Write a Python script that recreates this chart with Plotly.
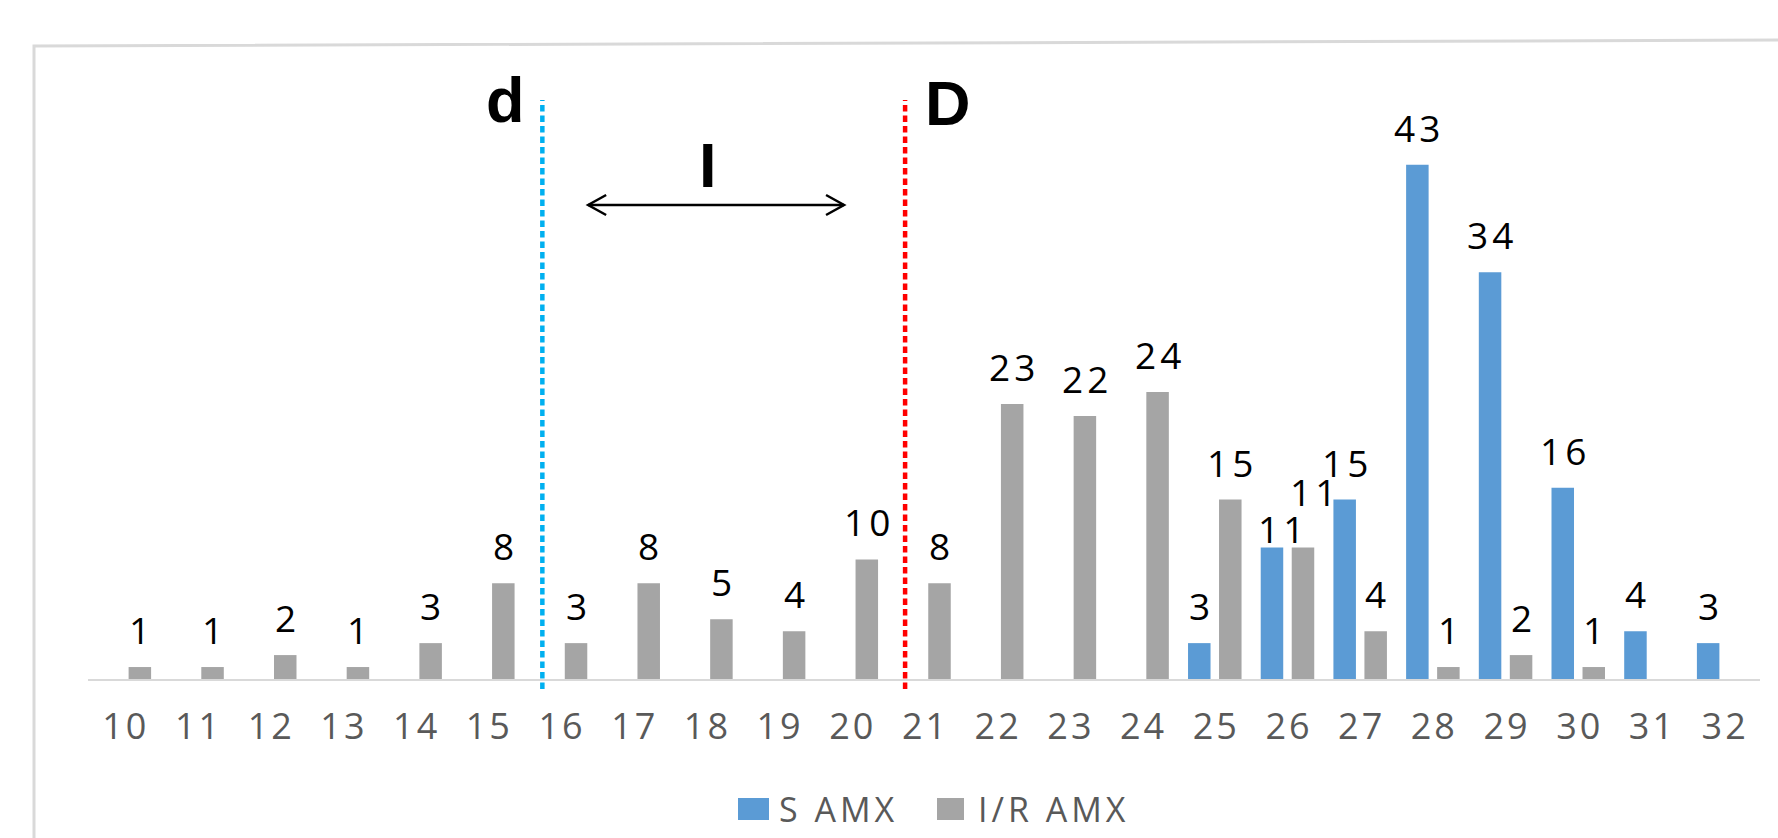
import plotly.graph_objects as go

# Inhibition zone diameter (mm) and number of strains per class
categories = list(range(10, 33))
s_amx = [0, 0, 0, 0, 0, 0, 0, 0, 0, 0, 0, 0, 0, 0, 0, 3, 11, 15, 43, 34, 16, 4, 3]
ir_amx = [1, 1, 2, 1, 3, 8, 3, 8, 5, 4, 10, 8, 23, 22, 24, 15, 11, 4, 1, 2, 1, 0, 0]
series_names = ["S AMX", "I/R AMX"]

# critical diameters drawn as dotted markers on the axis
d_critical = 15.75
D_critical = 20.74
interval_span = (16.38, 19.90)

# ---- layout geometry -------------------------------------------------------
W, H = 1778, 838
PL, PR, PT, PB = 88, 1760, 81, 679
X0, X1 = 9.5, 32.5
Y0, Y1 = 0, 50

BLUE = "#5B9BD5"
GREY = "#A5A5A5"
FONT = "Open Sans"


def px_x(px):
    return (px - PL) / (PR - PL)


def px_y(py):
    return (PB - py) / (PB - PT)


def ax_x(v):
    return (v - X0) / (X1 - X0)


def spaced(s, ls):
    """Letter-spacing between characters (not after the last one)."""
    if len(s) < 2:
        return s
    return f"<span style='letter-spacing:{ls}px'>{s[:-1]}</span>{s[-1]}"


fig = go.Figure()
fig.add_trace(go.Bar(x=categories, y=s_amx, name=series_names[0],
                     marker=dict(color=BLUE, line=dict(width=0))))
fig.add_trace(go.Bar(x=categories, y=ir_amx, name=series_names[1],
                     marker=dict(color=GREY, line=dict(width=0))))

shapes = []
annotations = []

# outer chart frame
shapes.append(dict(type="path", xref="paper", yref="paper",
                   path=f"M {px_x(34)},{px_y(845)} L {px_x(34)},{px_y(46)} L {px_x(1790)},{px_y(40)}",
                   line=dict(color="#D9D9D9", width=3)))

# critical diameter markers
for xv, col in ((d_critical, "#00B0F0"), (D_critical, "#FF0000")):
    shapes.append(dict(type="line", xref="paper", yref="paper",
                       x0=ax_x(xv), x1=ax_x(xv), y0=px_y(689), y1=px_y(100),
                       line=dict(color=col, width=4.5, dash="6.5px,4px")))

# double-headed arrow for the intermediate interval
ay = px_y(205)
lx, rx = ax_x(interval_span[0]), ax_x(interval_span[1])
hx = 18 / (PR - PL)
hy = 10 / (PB - PT)
arrow = dict(color="black", width=2.5)
shapes.append(dict(type="path", xref="paper", yref="paper",
                   path=f"M {lx},{ay} L {rx},{ay}", line=arrow))
shapes.append(dict(type="path", xref="paper", yref="paper",
                   path=f"M {lx + hx},{ay + hy} L {lx},{ay} L {lx + hx},{ay - hy}", line=arrow))
shapes.append(dict(type="path", xref="paper", yref="paper",
                   path=f"M {rx - hx},{ay + hy} L {rx},{ay} L {rx - hx},{ay - hy}", line=arrow))

# d / D / I letters
big = dict(family="Liberation Sans, Arial", size=63, color="black")
for txt, cx, cy in (("<b>d</b>", 504.5, 100), ("<b>D</b>", 948, 103), ("<b>I</b>", 707.5, 165)):
    annotations.append(dict(text=txt, xref="paper", yref="paper", x=px_x(cx), y=px_y(cy),
                            xanchor="center", yanchor="middle", showarrow=False, font=big))

# value labels above bars
bar_offset = 15.5
label_lift = 37.5
nudges = {(0, 26): (9.5, -18.5), (1, 26): (10, 18)}
for si, vals in enumerate((s_amx, ir_amx)):
    off = -bar_offset if si == 0 else bar_offset
    for c, v in zip(categories, vals):
        if v <= 0:
            continue
        nx, ny = nudges.get((si, c), (0, 0))
        annotations.append(dict(text=spaced(str(v), 4), x=c, y=v, xref="x", yref="y",
                                xanchor="center", yanchor="middle", showarrow=False,
                                xshift=off + nx, yshift=label_lift + ny,
                                font=dict(family=FONT, size=37, color="black")))

# legend
leg_items = ((series_names[0], BLUE, 738, 769, 777), (series_names[1], GREY, 937, 964, 976))
for name, col, sx0, sx1, tx in leg_items:
    shapes.append(dict(type="rect", xref="paper", yref="paper",
                       x0=px_x(sx0), x1=px_x(sx1), y0=px_y(820), y1=px_y(798),
                       fillcolor=col, line=dict(width=0)))
    annotations.append(dict(text=spaced(name, 4), xref="paper", yref="paper",
                            x=px_x(tx), y=px_y(809), xanchor="left", yanchor="middle",
                            showarrow=False, font=dict(family=FONT, size=34, color="#595959")))

fig.update_layout(
    width=W, height=H,
    margin=dict(l=PL, r=W - PR, t=PT, b=H - PB, pad=0),
    paper_bgcolor="white", plot_bgcolor="white",
    barmode="group", bargap=0.147, bargroupgap=0.274,
    showlegend=False,
    shapes=shapes, annotations=annotations,
    xaxis=dict(range=[X0, X1], tickmode="array", tickvals=categories,
               ticktext=[spaced(str(c), 3) for c in categories],
               showline=True, linecolor="#D9D9D9", linewidth=2,
               showgrid=False, zeroline=False, ticks="",
               ticklabelstandoff=15,
               tickfont=dict(family=FONT, size=36, color="#595959")),
    yaxis=dict(range=[Y0, Y1], visible=False, showgrid=False, zeroline=False),
)

fig.write_html("out.html")
